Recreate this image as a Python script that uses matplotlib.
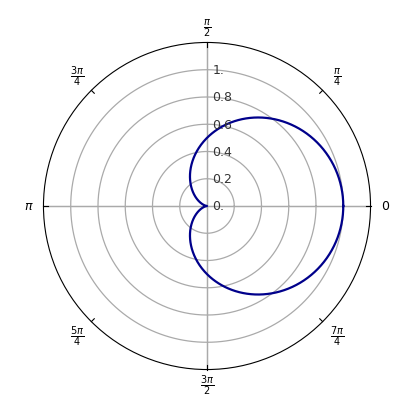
import numpy as np
import matplotlib.pyplot as plt

# cardioid r = a + b*cos(theta)
a = 0.5
b = 0.5
rings = [0.2, 0.4, 0.6, 0.8, 1.0]
ring_labels = ["0.", "0.2", "0.4", "0.6", "0.8", "1."]
angle_labels = ["0", r"$\frac{\pi}{4}$", r"$\frac{\pi}{2}$", r"$\frac{3\pi}{4}$",
                r"$\pi$", r"$\frac{5\pi}{4}$", r"$\frac{3\pi}{2}$", r"$\frac{7\pi}{4}$"]

theta = np.linspace(0, 2 * np.pi, 721)
r = a + b * np.cos(theta)

fig = plt.figure(figsize=(4.14, 4.14), dpi=100)
ax = fig.add_axes([0.105, 0.105, 0.79, 0.79], projection="polar")
ax.set_ylim(0, 1.2)
ax.grid(False)
ax.set_xticks([])
ax.set_yticks([])
ax.spines["polar"].set_color("black")
ax.spines["polar"].set_linewidth(0.8)

full = np.linspace(0, 2 * np.pi, 361)
for rr in rings:
    ax.plot(full, np.full_like(full, rr), color="#aaaaaa", lw=0.9, zorder=1)
for ang in [0, np.pi / 2]:
    ax.plot([ang, ang + np.pi], [1.2, 1.2], color="#aaaaaa", lw=0.9, zorder=1)
    ax.plot([ang, ang], [0, 1.2], color="#aaaaaa", lw=0.9, zorder=1)
    ax.plot([ang + np.pi, ang + np.pi], [0, 1.2], color="#aaaaaa", lw=0.9, zorder=1)

# small ticks on outer circle
for k in range(8):
    ang = k * np.pi / 4
    ax.plot([ang, ang], [1.17, 1.2], color="black", lw=0.8, clip_on=False)

ax.plot(theta, r, color="#00008b", lw=1.6, zorder=3)

for i, lab in enumerate(ring_labels):
    rr = 0.2 * i
    ax.text(np.arctan2(rr, 0.04), np.hypot(rr, 0.04), lab, fontsize=9,
            ha="left", va="center", color="#333333",
            fontfamily="DejaVu Sans", zorder=4)

for k, lab in enumerate(angle_labels):
    ang = k * np.pi / 4
    dist = 1.31 if k % 2 == 0 else 1.35
    ax.text(ang, dist, lab, fontsize=10 if k % 4 != 0 else 9,
            ha="center", va="center")

fig.savefig("out.png", dpi=100)
